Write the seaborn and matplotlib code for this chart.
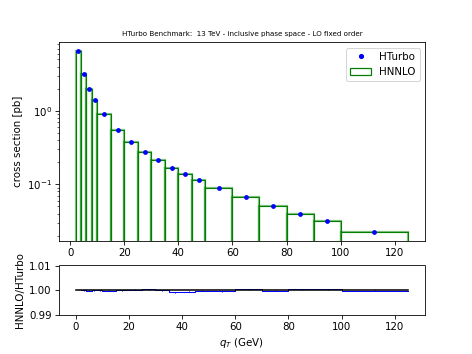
import matplotlib

matplotlib.use("Agg")

import matplotlib.pyplot as plt
import seaborn as sns
from matplotlib.lines import Line2D
from matplotlib.patches import Patch

# bin edges in q_T (GeV)
BIN_EDGES = [2, 4, 6, 8, 10, 15, 20, 25, 30, 35, 40, 45, 50, 60, 70, 80, 90, 100, 125]
BIN_CENTERS = [3, 5, 7, 9, 12.5, 17.5, 22.5, 27.5, 32.5, 37.5, 42.5, 47.5,
               55, 65, 75, 85, 95, 112.5]

# cross sections [pb]
HNNLO_XS = [6.49, 3.21, 2.00, 1.42, 0.90, 0.55, 0.376, 0.274, 0.213, 0.169,
            0.139, 0.115, 0.090, 0.067, 0.0515, 0.040, 0.032, 0.0222]
HTURBO_XS = [6.49, 3.21, 2.00, 1.42, 0.90, 0.55, 0.376, 0.274, 0.213, 0.169,
             0.139, 0.115, 0.090, 0.067, 0.0515, 0.040, 0.032, 0.0222]

# ratio HNNLO/HTurbo and its statistical error
RATIO = [1.0000, 0.9999, 1.0000, 1.0000, 0.9999, 1.0000, 1.0003, 1.0005, 1.0001,
         0.9992, 0.9994, 0.9998, 0.9997, 1.0005, 0.9999, 1.0004, 1.0005, 0.9999]
RATIO_ERR = [0.0002, 0.0002, 0.0002, 0.0002, 0.0002, 0.0002, 0.0002, 0.0002, 0.0002,
             0.0002, 0.0002, 0.0002, 0.0002, 0.0002, 0.0002, 0.0002, 0.0002, 0.0002]
UNITY_RANGE = [0, 125]

TITLE = "HTurbo Benchmark:  13 TeV - inclusive phase space - LO fixed order"

# plain matplotlib look (no seaborn theme), seaborn only draws the marks
plt.rcParams["font.family"] = ["DejaVu Sans"]

fig, (ax, rax) = plt.subplots(
    2, 1, figsize=(6.4, 4.8), gridspec_kw={"height_ratios": [4, 1]}
)

ax.set_yscale("log")
sns.histplot(
    x=BIN_CENTERS, weights=HNNLO_XS, bins=BIN_EDGES, element="bars",
    fill=False, color="green", linewidth=2.2, alpha=0.5, ax=ax,
)
sns.histplot(
    x=BIN_CENTERS, weights=HNNLO_XS, bins=BIN_EDGES, element="bars",
    fill=False, color="green", linewidth=1.0, ax=ax,
)
sns.scatterplot(x=BIN_CENTERS, y=HTURBO_XS, color="blue", s=22, linewidth=0,
                ax=ax, zorder=5)
ax.set_ylim(0.0171, 8.5)
ax.set_xlim(-4.15, 131.15)
ax.set_ylabel("cross section [pb]")
ax.set_xlabel("")
ax.set_title(TITLE, fontsize=7)

handles = [
    Line2D([], [], marker="o", color="blue", linestyle="none", markersize=4),
    Patch(facecolor="none", edgecolor="green", linewidth=1.2),
]
ax.legend(handles, ["HTurbo", "HNNLO"], loc="upper right")

sns.histplot(
    x=BIN_CENTERS, weights=RATIO, bins=BIN_EDGES, element="step",
    fill=False, color="blue", linewidth=1.0, ax=rax,
)
rax.errorbar(BIN_CENTERS, RATIO, yerr=RATIO_ERR, fmt="none", ecolor="blue",
             elinewidth=1.0)
sns.lineplot(x=UNITY_RANGE, y=[1.0, 1.0], color="black", linewidth=1.5, ax=rax)
rax.set_ylim(0.99, 1.01)
rax.set_yticks([0.99, 1.00, 1.01])
rax.set_xlim(-6.25, 131.25)
rax.set_ylabel("HNNLO/HTurbo")
rax.set_xlabel("$q_T$ (GeV)")

fig.savefig("out.png", dpi=73.75)
